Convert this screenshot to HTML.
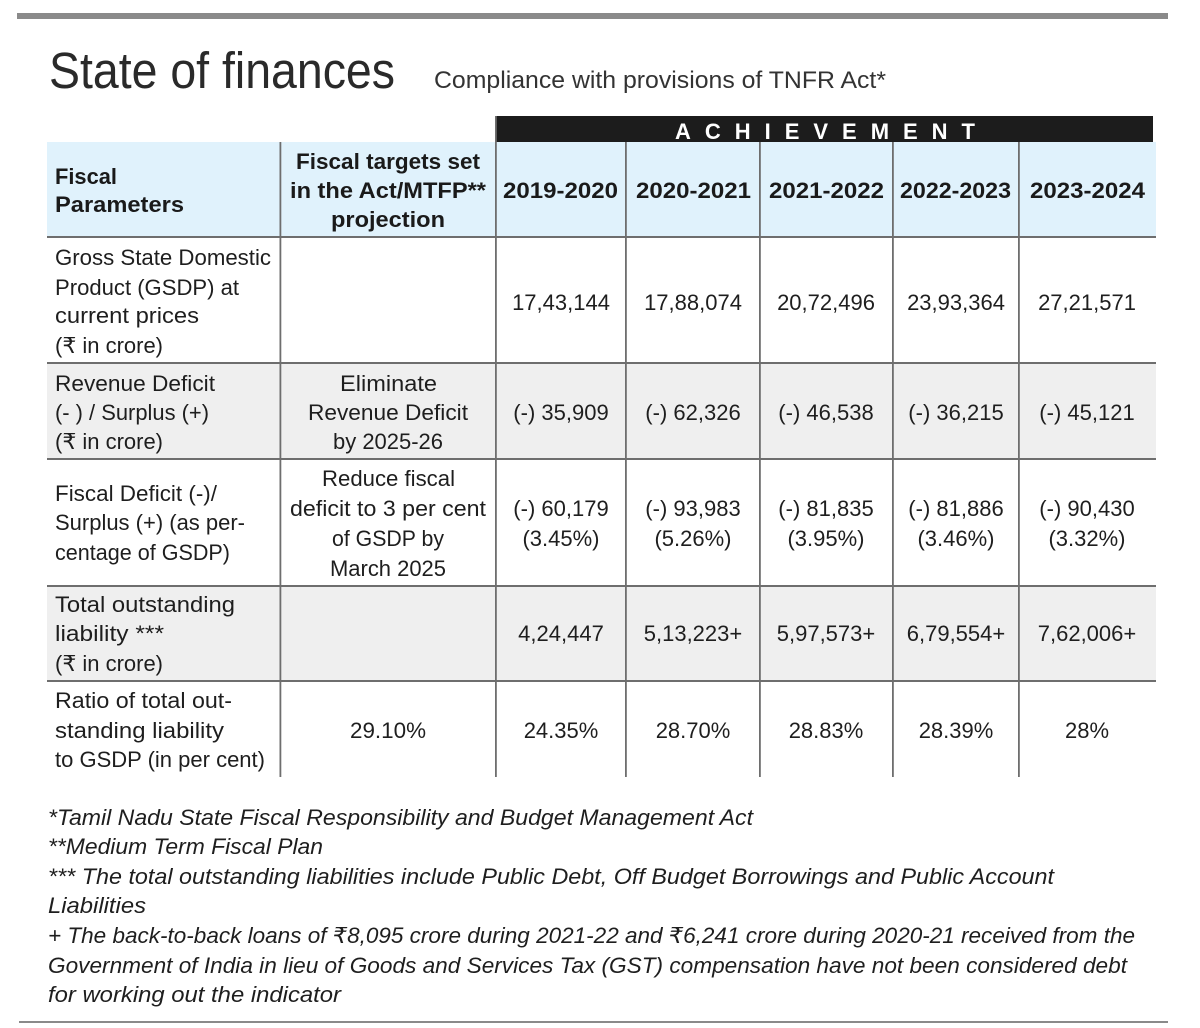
<!DOCTYPE html>
<html><head><meta charset="utf-8"><style>
html,body{margin:0;padding:0;background:#fff;}
svg{display:block;}
text{font-family:"Liberation Sans","DejaVu Sans",sans-serif;fill:#1e1e1e;}
.b{font-size:22px;}
.h{font-size:22px;font-weight:bold;fill:#1a1a1a;}
.f{font-size:22px;font-style:italic;}
</style></head><body>
<svg width="1200" height="1028" viewBox="0 0 1200 1028" xmlns="http://www.w3.org/2000/svg">
<rect x="0" y="0" width="1200" height="1028" fill="#fff"/>
<rect x="17" y="13" width="1151" height="6" fill="#8a8a8a"/>
<text x="49" y="88" style="font-size:51px;fill:#2a2a2a" textLength="346" lengthAdjust="spacingAndGlyphs">State of finances</text>
<text x="434" y="88" style="font-size:24px;fill:#333" textLength="452" lengthAdjust="spacingAndGlyphs">Compliance with provisions of TNFR Act*</text>

<!-- header -->
<rect x="496" y="116" width="657" height="26" fill="#1c1c1c"/>
<text x="675" y="139" style="font-size:22px;font-weight:bold;fill:#fff" textLength="300" lengthAdjust="spacing">ACHIEVEMENT</text>
<rect x="47" y="142" width="1109" height="95" fill="#e0f2fc"/>
<!-- grey rows -->
<rect x="47" y="363" width="1109" height="96" fill="#efefef"/>
<rect x="47" y="586" width="1109" height="95" fill="#efefef"/>

<!-- lines -->
<g fill="#6e6e6e">
<rect x="47" y="236" width="1109" height="2"/>
<rect x="47" y="362" width="1109" height="2"/>
<rect x="47" y="458" width="1109" height="2"/>
<rect x="47" y="585" width="1109" height="2"/>
<rect x="47" y="680" width="1109" height="2"/>
<rect x="279.5" y="142" width="1.8" height="635"/>
<rect x="495" y="116" width="1.8" height="661"/>
<rect x="625" y="142" width="1.8" height="635"/>
<rect x="759" y="142" width="1.8" height="635"/>
<rect x="892" y="142" width="1.8" height="635"/>
<rect x="1018" y="142" width="1.8" height="635"/>
</g>

<!-- header text -->
<text class="h" x="55" y="184" textLength="62" lengthAdjust="spacingAndGlyphs">Fiscal</text>
<text class="h" x="55" y="212" textLength="129" lengthAdjust="spacingAndGlyphs">Parameters</text>
<text class="h" x="296" y="169" textLength="184" lengthAdjust="spacingAndGlyphs">Fiscal targets set</text>
<text class="h" x="290" y="198" textLength="196" lengthAdjust="spacingAndGlyphs">in the Act/MTFP**</text>
<text class="h" x="331" y="227" textLength="114" lengthAdjust="spacingAndGlyphs">projection</text>
<text class="h" x="503" y="198" textLength="115" lengthAdjust="spacingAndGlyphs">2019-2020</text>
<text class="h" x="636" y="198" textLength="115" lengthAdjust="spacingAndGlyphs">2020-2021</text>
<text class="h" x="769" y="198" textLength="115" lengthAdjust="spacingAndGlyphs">2021-2022</text>
<text class="h" x="900" y="198" textLength="111" lengthAdjust="spacingAndGlyphs">2022-2023</text>
<text class="h" x="1030" y="198" textLength="115" lengthAdjust="spacingAndGlyphs">2023-2024</text>

<!-- column 0 -->
<g class="b">
<text class="b" x="55" y="265" textLength="216" lengthAdjust="spacingAndGlyphs">Gross State Domestic</text>
<text class="b" x="55" y="295" textLength="184" lengthAdjust="spacingAndGlyphs">Product (GSDP) at</text>
<text class="b" x="55" y="323" textLength="144" lengthAdjust="spacingAndGlyphs">current prices</text>
<text class="b" x="55" y="353" textLength="108" lengthAdjust="spacingAndGlyphs">(₹ in crore)</text>

<text class="b" x="55" y="391" textLength="160" lengthAdjust="spacingAndGlyphs">Revenue Deficit</text>
<text class="b" x="55" y="420" textLength="154" lengthAdjust="spacingAndGlyphs">(- ) / Surplus (+)</text>
<text class="b" x="55" y="449" textLength="108" lengthAdjust="spacingAndGlyphs">(₹ in crore)</text>

<text class="b" x="55" y="501" textLength="162" lengthAdjust="spacingAndGlyphs">Fiscal Deficit (-)/</text>
<text class="b" x="55" y="530" textLength="190" lengthAdjust="spacingAndGlyphs">Surplus (+) (as per-</text>
<text class="b" x="55" y="560" textLength="175" lengthAdjust="spacingAndGlyphs">centage of GSDP)</text>

<text class="b" x="55" y="612" textLength="180" lengthAdjust="spacingAndGlyphs">Total outstanding</text>
<text class="b" x="55" y="641" textLength="109" lengthAdjust="spacingAndGlyphs">liability ***</text>
<text class="b" x="55" y="671" textLength="108" lengthAdjust="spacingAndGlyphs">(₹ in crore)</text>

<text class="b" x="55" y="708" textLength="177" lengthAdjust="spacingAndGlyphs">Ratio of total out-</text>
<text class="b" x="55" y="738" textLength="169" lengthAdjust="spacingAndGlyphs">standing liability</text>
<text class="b" x="55" y="767" textLength="210" lengthAdjust="spacingAndGlyphs">to GSDP (in per cent)</text>
</g>

<!-- column 1 -->
<text class="b" x="340" y="391" textLength="97" lengthAdjust="spacingAndGlyphs">Eliminate</text>
<text class="b" x="308" y="420" textLength="160" lengthAdjust="spacingAndGlyphs">Revenue Deficit</text>
<text class="b" x="333" y="449" textLength="110" lengthAdjust="spacingAndGlyphs">by 2025-26</text>
<text class="b" x="322" y="486" textLength="133" lengthAdjust="spacingAndGlyphs">Reduce fiscal</text>
<text class="b" x="290" y="516" textLength="196" lengthAdjust="spacingAndGlyphs">deficit to 3 per cent</text>
<text class="b" x="332" y="546" textLength="112" lengthAdjust="spacingAndGlyphs">of GSDP by</text>
<text class="b" x="330" y="576" textLength="116" lengthAdjust="spacingAndGlyphs">March 2025</text>
<text class="b" x="350" y="738" textLength="76" lengthAdjust="spacingAndGlyphs">29.10%</text>

<!-- values -->
<g text-anchor="middle">
<text class="b" x="561" y="310">17,43,144</text>
<text class="b" x="693" y="310">17,88,074</text>
<text class="b" x="826" y="310">20,72,496</text>
<text class="b" x="956" y="310">23,93,364</text>
<text class="b" x="1087" y="310">27,21,571</text>

<text class="b" x="561" y="420">(-) 35,909</text>
<text class="b" x="693" y="420">(-) 62,326</text>
<text class="b" x="826" y="420">(-) 46,538</text>
<text class="b" x="956" y="420">(-) 36,215</text>
<text class="b" x="1087" y="420">(-) 45,121</text>

<text class="b" x="561" y="516">(-) 60,179</text>
<text class="b" x="693" y="516">(-) 93,983</text>
<text class="b" x="826" y="516">(-) 81,835</text>
<text class="b" x="956" y="516">(-) 81,886</text>
<text class="b" x="1087" y="516">(-) 90,430</text>
<text class="b" x="561" y="546">(3.45%)</text>
<text class="b" x="693" y="546">(5.26%)</text>
<text class="b" x="826" y="546">(3.95%)</text>
<text class="b" x="956" y="546">(3.46%)</text>
<text class="b" x="1087" y="546">(3.32%)</text>

<text class="b" x="561" y="641">4,24,447</text>
<text class="b" x="693" y="641">5,13,223+</text>
<text class="b" x="826" y="641">5,97,573+</text>
<text class="b" x="956" y="641">6,79,554+</text>
<text class="b" x="1087" y="641">7,62,006+</text>

<text class="b" x="561" y="738">24.35%</text>
<text class="b" x="693" y="738">28.70%</text>
<text class="b" x="826" y="738">28.83%</text>
<text class="b" x="956" y="738">28.39%</text>
<text class="b" x="1087" y="738">28%</text>
</g>

<!-- footnotes -->
<text class="f" x="48" y="825" textLength="705" lengthAdjust="spacingAndGlyphs">*Tamil Nadu State Fiscal Responsibility and Budget Management Act</text>
<text class="f" x="48" y="854" textLength="275" lengthAdjust="spacingAndGlyphs">**Medium Term Fiscal Plan</text>
<text class="f" x="48" y="884" textLength="1006" lengthAdjust="spacingAndGlyphs">*** The total outstanding liabilities include Public Debt, Off Budget Borrowings and Public Account</text>
<text class="f" x="48" y="913" textLength="98" lengthAdjust="spacingAndGlyphs">Liabilities</text>
<text class="f" x="48" y="943" textLength="1087" lengthAdjust="spacingAndGlyphs">+ The back-to-back loans of ₹8,095 crore during 2021-22 and ₹6,241 crore during 2020-21 received from the</text>
<text class="f" x="48" y="973" textLength="1079" lengthAdjust="spacingAndGlyphs">Government of India in lieu of Goods and Services Tax (GST) compensation have not been considered debt</text>
<text class="f" x="48" y="1002" textLength="293" lengthAdjust="spacingAndGlyphs">for working out the indicator</text>

<rect x="19" y="1021" width="1149" height="2" fill="#8a8a8a"/>
</svg>
</body></html>
